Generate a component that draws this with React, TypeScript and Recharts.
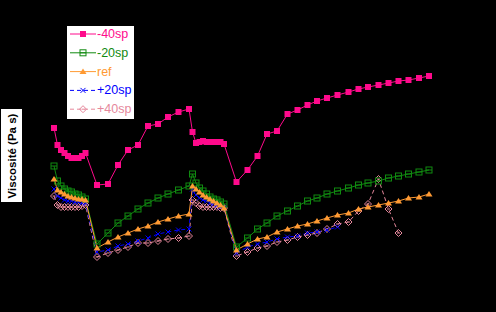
import { LineChart, Line, XAxis, YAxis } from "recharts"

// time axis (sampling is denser right after each step)
const times = [
  0, 0.35, 0.7, 1.05, 1.4, 1.75, 2.1, 2.45, 2.8, 3.15,
  4.3, 5.4, 6.4, 7.4, 8.4, 9.4, 10.4, 11.4, 12.45, 13.5,
  13.85, 14.2, 14.55, 14.9, 15.25, 15.6, 15.95, 16.3, 16.65, 17.0,
  18.25, 19.35, 20.35, 21.3, 22.3, 23.35, 24.35, 25.35, 26.3, 27.3,
  28.35, 29.45, 30.45, 31.4, 32.45, 33.45, 34.45, 35.45, 36.5, 37.5,
]

const minus40 = [
  1.42, 1.25, 1.2, 1.17, 1.14, 1.12, 1.12, 1.12, 1.14, 1.17,
  0.85, 0.86, 1.05, 1.2, 1.25, 1.44, 1.46, 1.53, 1.58, 1.61,
  1.38, 1.27, 1.28, 1.29, 1.28, 1.28, 1.28, 1.28, 1.28, 1.26,
  0.88, 1.0, 1.14, 1.36, 1.39, 1.56, 1.6, 1.65, 1.69, 1.72,
  1.75, 1.78, 1.81, 1.83, 1.85, 1.87, 1.89, 1.9, 1.92, 1.94,
]

const minus20 = [
  1.04, 0.89, 0.84, 0.81, 0.79, 0.78, 0.76, 0.75, 0.73, 0.71,
  0.26, 0.37, 0.47, 0.54, 0.61, 0.67, 0.72, 0.76, 0.8, 0.84,
  0.96, 0.87, 0.82, 0.79, 0.76, 0.73, 0.71, 0.7, 0.68, 0.66,
  0.23, 0.32, 0.41, 0.47, 0.54, 0.59, 0.64, 0.69, 0.72, 0.76,
  0.79, 0.82, 0.85, 0.87, 0.89, 0.92, 0.94, 0.96, 0.98, 1.0,
]

const ref = [
  0.91, 0.8, 0.78, 0.76, 0.74, 0.73, 0.72, 0.71, 0.71, 0.7,
  0.22, 0.28, 0.33, 0.37, 0.41, 0.44, 0.48, 0.51, 0.54, 0.56,
  0.84, 0.81, 0.78, 0.75, 0.73, 0.71, 0.69, 0.67, 0.65, 0.62,
  0.2, 0.26, 0.31, 0.33, 0.38, 0.41, 0.44, 0.46, 0.49, 0.52,
  0.55, 0.57, 0.61, 0.63, 0.65, 0.67, 0.69, 0.72, 0.73, 0.76,
]

const plus20 = [
  0.81, 0.74, 0.72, 0.7, 0.69, 0.69, 0.68, 0.68, 0.67, 0.67,
  0.18, 0.2, 0.24, 0.26, 0.29, 0.32, 0.36, 0.38, 0.4, 0.41,
  0.81, 0.75, 0.72, 0.7, 0.69, 0.67, 0.66, 0.65, 0.63, 0.62,
  0.17, 0.23, 0.26, 0.28, 0.31, 0.33, 0.34, 0.37, 0.38, 0.4,
  0.43, null, null, null, null, null, null, null, null, null,
]

const plus40 = [
  0.74, 0.65, 0.63, 0.63, 0.63, 0.63, 0.63, 0.63, 0.64, 0.65,
  0.13, 0.17, 0.2, 0.23, 0.27, 0.27, 0.29, 0.31, 0.32, 0.34,
  0.7, 0.67, 0.64, 0.63, 0.63, 0.63, 0.63, 0.63, 0.62, 0.62,
  0.14, 0.18, 0.22, 0.24, 0.28, 0.3, 0.33, 0.35, 0.37, 0.41,
  0.46, 0.48, 0.59, 0.66, 0.91, 0.61, 0.37, null, null, null,
]

const data = times.map((t, i) => ({
  t,
  m40: minus40[i],
  m20: minus20[i],
  ref: ref[i],
  p20: plus20[i],
  p40: plus40[i],
}))

const PINK = "#ff0a8c"
const GREEN = "#108a10"
const ORANGE = "#ff9a33"
const BLUE = "#0000ff"
const ROSE = "#e6889c"

type Shape = "square" | "box" | "triangle" | "cross" | "diamond"

function marker(shape: Shape, color: string, cx: number, cy: number, key?: any) {
  if (shape === "square")
    return <rect key={key} x={cx - 3} y={cy - 3} width={6} height={6} fill={color} />
  if (shape === "box")
    return (
      <g key={key} stroke={color} fill="none" strokeWidth={1}>
        <rect x={cx - 3} y={cy - 3} width={6} height={6} />
        <line x1={cx - 3} y1={cy} x2={cx + 3} y2={cy} />
      </g>
    )
  if (shape === "triangle")
    return <path key={key} d={`M${cx - 3.5},${cy + 2.5}L${cx},${cy - 3}L${cx + 3.5},${cy + 2.5}Z`} fill={color} />
  if (shape === "cross")
    return (
      <g key={key} stroke={color} strokeWidth={1}>
        <line x1={cx - 2.5} y1={cy - 2.5} x2={cx + 2.5} y2={cy + 2.5} />
        <line x1={cx - 2.5} y1={cy + 2.5} x2={cx + 2.5} y2={cy - 2.5} />
      </g>
    )
  return (
    <g key={key} stroke={color} fill="none" strokeWidth={1}>
      <path d={`M${cx},${cy - 3.5}L${cx + 3.5},${cy}L${cx},${cy + 3.5}L${cx - 3.5},${cy}Z`} />
      <line x1={cx - 1.5} y1={cy} x2={cx + 1.5} y2={cy} />
    </g>
  )
}

const dot = (shape: Shape, color: string) => (props: any) => {
  const { cx, cy, index, value } = props
  if (value == null || cx == null || cy == null) return <g key={index} />
  return marker(shape, color, cx, cy, index)
}

const legendItems: { label: string; color: string; shape: Shape; dash?: string }[] = [
  { label: "-40sp", color: PINK, shape: "square" },
  { label: "-20sp", color: GREEN, shape: "box" },
  { label: "ref", color: ORANGE, shape: "triangle" },
  { label: "+20sp", color: BLUE, shape: "cross", dash: "4 3" },
  { label: "+40sp", color: ROSE, shape: "diamond", dash: "4 3" },
]

const YLabel = ({ viewBox }: any) => {
  const x = viewBox.x
  const y = viewBox.y + 49
  return (
    <g>
      <rect x={x + 1} y={y} width={21} height={93} fill="#fff" />
      <text
        x={x + 11.5}
        y={y + 47}
        transform={`rotate(-90 ${x + 11.5} ${y + 47})`}
        textAnchor="middle"
        dominantBaseline="central"
        fontFamily="Liberation Sans, Arial, sans-serif"
        fontSize={11.5}
        fontWeight="bold"
        fill="#000"
      >
        Viscosité (Pa s)
      </text>
    </g>
  )
}

export default function App() {
  return (
    <div style={{ position: "fixed", left: 0, top: 0, width: 496, height: 312, background: "#000" }}>
      <LineChart width={496} height={312} data={data} margin={{ top: 60, right: 42, bottom: 42, left: 0 }}>
        <XAxis dataKey="t" type="number" domain={[0, 40]} hide />
        <YAxis
          domain={[0, 2.1]}
          width={54}
          axisLine={false}
          tickLine={false}
          tick={false}
          label={{ content: YLabel }}
        />
        <Line dataKey="p40" stroke={ROSE} strokeWidth={1} strokeDasharray="4 3" dot={dot("diamond", ROSE)} isAnimationActive={false} />
        <Line dataKey="p20" stroke={BLUE} strokeWidth={1} strokeDasharray="4 3" dot={dot("cross", BLUE)} isAnimationActive={false} />
        <Line dataKey="m20" stroke={GREEN} strokeWidth={1} dot={dot("box", GREEN)} isAnimationActive={false} />
        <Line dataKey="ref" stroke={ORANGE} strokeWidth={1} dot={dot("triangle", ORANGE)} isAnimationActive={false} />
        <Line dataKey="m40" stroke={PINK} strokeWidth={1} dot={dot("square", PINK)} isAnimationActive={false} />
      </LineChart>
      <svg
        width={67}
        height={93}
        style={{ position: "absolute", left: 67, top: 26, background: "#fff" }}
      >
        {legendItems.map((it, i) => {
          const cy = 8 + i * 18.8
          return (
            <g key={it.label}>
              <line x1={3} y1={cy} x2={29} y2={cy} stroke={it.color} strokeWidth={1} strokeDasharray={it.dash} />
              {marker(it.shape, it.color, 16, cy)}
              <text
                x={30}
                y={cy}
                dominantBaseline="central"
                fontFamily="Liberation Sans, Arial, sans-serif"
                fontSize={12.5}
                fill={it.color}
              >
                {it.label}
              </text>
            </g>
          )
        })}
      </svg>
    </div>
  )
}
